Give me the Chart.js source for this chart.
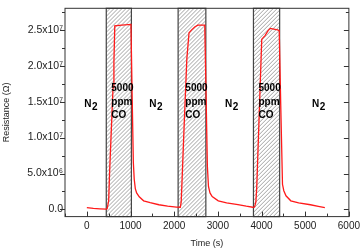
<!DOCTYPE html>
<html>
<head>
<meta charset="utf-8">
<script src="https://cdn.jsdelivr.net/npm/chart.js@4"></script>
<style>
html,body{margin:0;padding:0;background:#fff;}
#wrap{width:364px;height:251px;position:relative;}
</style>
</head>
<body>
<div id="wrap"><canvas id="c" width="364" height="251"></canvas></div>
<script>
// ---- data ----
const timeS = [0,150,300,440,465,500,520,560,600,620,640,800,1010,1040,1065,1085,1110,1140,1200,1300,1450,1650,1850,2050,2140,2160,2180,2230,2290,2340,2400,2470,2540,2700,2730,2760,2785,2820,2870,3010,3200,3460,3650,3800,3840,3870,3890,3940,4005,4080,4150,4200,4280,4370,4405,4440,4480,4510,4560,4670,4850,5120,5300,5450];
const resistance = [2.5e5,1.5e5,8e4,3e4,1e5,1.2e6,5.0e6,1.1e7,1.7e7,2.05e7,2.555e7,2.565e7,2.575e7,1.5e7,6.5e6,4.2e6,2.9e6,2.3e6,1.75e6,1.2e6,9.5e5,6.5e5,4.5e5,3.2e5,3.0e5,1.0e6,4.0e6,1.2e7,2.1e7,2.46e7,2.5e7,2.54e7,2.565e7,2.565e7,1.6e7,6.0e6,3.2e6,2.3e6,1.8e6,1.2e6,9.0e5,6.8e5,4.5e5,3.0e5,3.5e5,1.0e6,3.0e6,1.2e7,2.37e7,2.42e7,2.49e7,2.52e7,2.51e7,2.5e7,2.49e7,1.45e7,3.5e6,2.6e6,1.9e6,1.2e6,9.0e5,6.5e5,4.3e5,2.5e5];
const coStart = [445, 2090, 3815];
const coEnd   = [1020, 2725, 4415];
const xTicks = [0,1000,2000,3000,4000,5000,6000];
const yTicks = [0,5e6,1e7,1.5e7,2e7,2.5e7];
const yTickLabels = ['0.0','5.0x10\u2076','1.0x10\u2077','1.5x10\u2077','2.0x10\u2077','2.5x10\u2077'];
const gasLabelTimes = [86, 1577, 3310, 5301];          // "N2" label centres (s)
const coLabelTimes = [560, 2255, 3930];               // "5000 ppm CO" label left edges (s)

const FONT = '"Liberation Sans", Arial, Helvetica, sans-serif';

const bandsPlugin = {
  id: 'bands',
  beforeDatasetsDraw(chart) {
    const {ctx, chartArea: a, scales: {x, y}} = chart;
    ctx.save();
    for (let i = 0; i < coStart.length; i++) {
      const x0 = x.getPixelForValue(coStart[i]);
      const x1 = x.getPixelForValue(coEnd[i]);
      const top = a.top, bot = a.bottom, h = bot - top;
      ctx.save();
      ctx.beginPath();
      ctx.rect(x0, top, x1 - x0, h);
      ctx.clip();
      ctx.fillStyle = '#ffffff';
      ctx.fillRect(x0, top, x1 - x0, h);
      ctx.strokeStyle = '#8c8c8c';
      ctx.lineWidth = 0.8;
      ctx.beginPath();
      for (let k = -h; k < (x1 - x0) + 4; k += 4) {
        ctx.moveTo(x0 + k, bot);
        ctx.lineTo(x0 + k + h, top);
      }
      ctx.stroke();
      ctx.restore();
      ctx.strokeStyle = '#444';
      ctx.lineWidth = 1.2;
      ctx.strokeRect(x0, top, x1 - x0, h);
    }
    ctx.restore();
  },
  afterDatasetsDraw(chart) {
    const {ctx, chartArea: a, scales: {x, y}} = chart;
    ctx.save();
    // frame
    ctx.strokeStyle = '#333';
    ctx.lineWidth = 1;
    ctx.strokeRect(a.left, a.top, a.right - a.left, a.bottom - a.top);
    // ticks
    ctx.beginPath();
    for (let v = 0; v <= 2.75e7; v += 2.5e6) {
      const py = Math.round(y.getPixelForValue(v)) + 0.5;
      const major = (Math.round(v / 2.5e6) % 2) === 0;
      const L = major ? 5 : 3;
      ctx.moveTo(a.left - L, py); ctx.lineTo(a.left, py);
      ctx.moveTo(a.right - L, py); ctx.lineTo(a.right, py);
    }
    for (let v = -500; v <= 6000; v += 500) {
      const px = Math.round(x.getPixelForValue(v)) + 0.5;
      const major = (v % 1000) === 0;
      const L = major ? 5 : 3;
      ctx.moveTo(px, a.bottom); ctx.lineTo(px, a.bottom - L);
    }
    ctx.stroke();
    // annotations
    ctx.fillStyle = '#000';
    ctx.textBaseline = 'alphabetic';
    const nY = y.getPixelForValue(1.47e7) + 3;
    for (const t of gasLabelTimes) {
      const cx = x.getPixelForValue(t);
      ctx.font = 'bold 10px ' + FONT;
      const wN = ctx.measureText('N').width;
      const w2 = ctx.measureText('2').width;
      const sx = cx - (wN + w2) / 2;
      ctx.textAlign = 'left';
      ctx.fillText('N', sx, nY);
      ctx.fillText('2', sx + wN + 0.5, nY + 3.5);
    }
    const cY = y.getPixelForValue(1.645e7);
    for (const t of coLabelTimes) {
      const lx = x.getPixelForValue(t);
      ctx.font = 'bold 10px ' + FONT;
      ctx.textAlign = 'left';
      ctx.fillText('5000', lx, cY);
      ctx.fillText('ppm', lx, cY + 13.5);
      ctx.fillText('CO', lx, cY + 27);
    }
    ctx.restore();
  }
};

new Chart(document.getElementById('c'), {
  type: 'line',
  data: {
    datasets: [{
      data: timeS.map((t, i) => ({x: t, y: resistance[i]})),
      borderColor: '#ff1a1a',
      borderWidth: 1.3,
      pointRadius: 0,
      tension: 0,
      fill: false
    }]
  },
  options: {
    responsive: false,
    animation: false,
    events: [],
    layout: {padding: {top: 2, right: 13, left: 0, bottom: 0}},
    plugins: {legend: {display: false}, tooltip: {enabled: false}},
    scales: {
      x: {
        type: 'linear',
        min: -500, max: 6000,
        afterBuildTicks: s => { s.ticks = xTicks.map(v => ({value: v})); },
        afterFit: s => { s.height = 34.4; },
        grid: {display: false, drawTicks: false},
        border: {display: false},
        ticks: {
          padding: 4,
          color: '#222',
          font: {family: FONT, size: 10},
          maxRotation: 0,
          callback: v => String(v)
        },
        title: {
          display: true, text: 'Time (s)', color: '#222',
          font: {family: FONT, size: 9}, padding: {top: 0, bottom: 2.5}
        }
      },
      y: {
        type: 'linear',
        min: -1e6, max: 2.8e7,
        afterBuildTicks: s => { s.ticks = yTicks.map(v => ({value: v})); },
        afterFit: s => { s.width = 65; },
        grid: {display: false, drawTicks: false},
        border: {display: false},
        ticks: {
          padding: 2,
          color: '#222',
          font: {family: FONT, size: 10.5},
          callback: v => { const i = yTicks.indexOf(v); return i >= 0 ? yTickLabels[i] : ''; }
        },
        title: {
          display: true, text: 'Resistance (\u03A9)', color: '#222',
          font: {family: FONT, size: 9}, padding: {top: 1.5, bottom: 0}
        }
      }
    }
  },
  plugins: [bandsPlugin]
});
</script>
</body>
</html>
